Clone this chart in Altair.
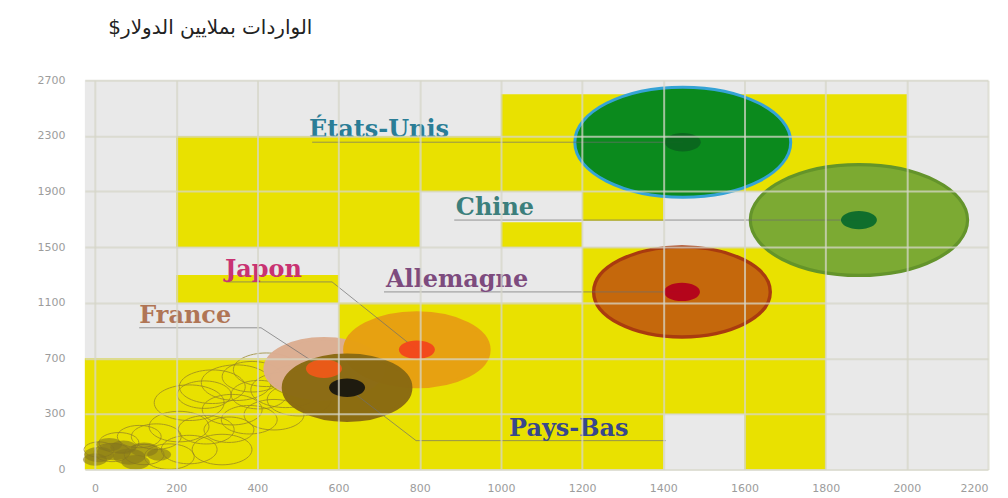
import altair as alt
import pandas as pd

# ---------------- data ----------------
title_text = "الواردات بملايين الدولار$\u200F"

countries = ["États-Unis", "Chine", "Allemagne", "France", "Japon", "Pays-Bas"]
exports_bn = [1448, 1882, 1446, 564, 793, 621]
imports_bn = [2255, 1695, 1178, 625, 762, 489]
trade_bn = [4050, 4100, 2710, 1200, 1794, 1395]

# label anchors (data units): left end of the underline
label_x = [527, 889, 717, 109, 320, 1020]
label_y = [2255, 1695, 1178, 920, 1250, 156]

# leader lines (polyline points, data units)
lead_country = ["États-Unis", "États-Unis", "Chine", "Chine", "Allemagne", "Allemagne",
                "France", "France", "France", "Japon", "Japon", "Japon",
                "Pays-Bas", "Pays-Bas", "Pays-Bas"]
lead_seq = [0, 1, 0, 1, 0, 1, 0, 1, 2, 0, 1, 2, 0, 1, 2]
lead_x = [535, 1448, 885, 1882, 712, 1446, 109, 409, 564, 323, 584, 793, 1406, 791, 621]
lead_y = [2255, 2255, 1695, 1695, 1178, 1178, 920, 920, 625, 1250, 1250, 762, 156, 156, 489]

# smaller countries (outline bubbles)
small_x = [232, 289, 348, 387, 422, 470, 338, 274, 207, 151, 109, 59, 232, 313, 183,
           42, 10, 503, 441, 380, 269, 404, 121, 330, 503]
small_y = [381, 496, 525, 568, 618, 474, 331, 215, 232, 178, 178, 145, 108, 108, 70,
           92, 108, 403, 296, 269, 439, 439, 81, 215, 546]
small_trade = [424, 377, 424, 311, 377, 424, 311, 271, 311, 216, 167, 138, 271, 311, 216,
               112, 78, 354, 311, 271, 252, 271, 138, 216, 311]

# smallest countries (filled cluster near origin)
cluster_x = [10, 47, 84, 121, 35, 158, 0, 70, 100]
cluster_y = [81, 97, 70, 108, 135, 81, 54, 120, 40]
cluster_trade = [78, 100, 89, 68, 58, 50, 50, 60, 70]

# yellow background cells (data units)
cell_x0 = [-25, 1600, -25, 600, 200, 1200, 200, 1000, 1200, 800, 1000]
cell_x1 = [1400, 1800, 1800, 1800, 600, 1800, 800, 1200, 1400, 2000, 2000]
cell_y0 = [0, 0, 300, 700, 1100, 1100, 1500, 1500, 1690, 1900, 2300]
cell_y1 = [300, 300, 700, 1100, 1300, 1500, 2300, 1680, 1900, 2300, 2600]

x_ticks = [0, 200, 400, 600, 800, 1000, 1200, 1400, 1600, 1800, 2000, 2200]
y_ticks = [0, 300, 700, 1100, 1500, 1900, 2300, 2700]

# ---------------- styles ----------------
fill_colors = ["#0b8a1d", "#7caa32", "#c5670d", "#dcae92", "#e7a012", "#8a6a12"]
stroke_colors = ["#35a3d6", "#63942a", "#a93a10", "#dcae92", "#e7a012", "#8a6a12"]
stroke_widths = [3, 4, 8, 0, 0, 0]
opacities = [1, 0.97, 1, 0.55, 0.92, 0.7]
dot_colors = ["#0b661f", "#0b6a2c", "#b3001c", "#ee5a18", "#f2461c", "#18170f"]
label_colors = ["#2a7d96", "#3c7f7c", "#7d4b7e", "#b07555", "#c83272", "#38478c"]

ELLIPSE = ("M-1,0C-1,-0.2817,-0.5523,-0.51,0,-0.51C0.5523,-0.51,1,-0.2817,1,0"
           "C1,0.2817,0.5523,0.51,0,0.51C-0.5523,0.51,-1,0.2817,-1,0Z")

# ---------------- tables ----------------
big = pd.DataFrame({"country": countries, "x": exports_bn, "y": imports_bn, "trade": trade_bn})
labels = pd.DataFrame({"country": countries, "x": label_x, "y": label_y})
leaders = pd.DataFrame({"country": lead_country, "seq": lead_seq, "x": lead_x, "y": lead_y})
small = pd.DataFrame({"x": small_x, "y": small_y, "trade": small_trade})
cluster = pd.DataFrame({"x": cluster_x, "y": cluster_y, "trade": cluster_trade})
cells = pd.DataFrame({"x": cell_x0, "x2": cell_x1, "y": cell_y0, "y2": cell_y1})

W, H = 905, 390
x_scale = alt.Scale(domain=[-25, 2200], nice=False, zero=False)
y_scale = alt.Scale(domain=[0, 300, 2700], range=[H, H - 55.7, 0], nice=False, zero=False)
size_scale = alt.Scale(domain=[0, 4000], range=[0, 46240], zero=True)

axis_common = dict(ticks=False, domain=False, grid=True, gridColor="#d6d6c8",
                   gridOpacity=0.75, gridWidth=2, labelColor="#9c9c9c",
                   labelFontSize=11, labelFont="DejaVu Sans", labelFlush=False,
                   labelOverlap=False, zindex=1, title=None, format="d")
x_axis = alt.Axis(values=x_ticks, labelPadding=13,
                  labelAlign={"condition": {"test": "datum.value >= 2200", "value": "right"},
                              "value": "center"},
                  **axis_common)
y_axis = alt.Axis(values=y_ticks, labelPadding=20, **axis_common)

X = alt.X("x:Q", scale=x_scale, axis=x_axis)
Y = alt.Y("y:Q", scale=y_scale, axis=y_axis)

rects = alt.Chart(cells).mark_rect(color="#e9e100").encode(x=X, x2="x2", y=Y, y2="y2")

small_layer = alt.Chart(small).mark_point(shape=ELLIPSE, filled=False, strokeWidth=1,
                                          color="#958327", opacity=0.75).encode(
    x=X, y=Y, size=alt.Size("trade:Q", scale=size_scale, legend=None))

cluster_layer = alt.Chart(cluster).mark_point(shape=ELLIPSE, filled=True,
                                              color="#85761c", opacity=0.6).encode(
    x=X, y=Y, size=alt.Size("trade:Q", scale=size_scale, legend=None))

big_layer = alt.Chart(big).mark_point(shape=ELLIPSE, filled=True).encode(
    x=X, y=Y,
    size=alt.Size("trade:Q", scale=size_scale, legend=None),
    fill=alt.Fill("country:N", scale=alt.Scale(domain=countries, range=fill_colors), legend=None),
    stroke=alt.Stroke("country:N", scale=alt.Scale(domain=countries, range=stroke_colors), legend=None),
    strokeWidth=alt.StrokeWidth("country:N", scale=alt.Scale(domain=countries, range=stroke_widths), legend=None),
    opacity=alt.Opacity("country:N", scale=alt.Scale(domain=countries, range=opacities), legend=None),
)

lead_layer = alt.Chart(leaders).mark_line(color="#6f6f6f", strokeWidth=1, opacity=0.7).encode(
    x=X, y=Y, detail="country:N", order="seq:Q")

dot_layer = alt.Chart(big).mark_point(shape=ELLIPSE, filled=True, size=1300, opacity=0.95).encode(
    x=X, y=Y,
    fill=alt.Fill("country:N", scale=alt.Scale(domain=countries, range=dot_colors), legend=None))

label_layer = alt.Chart(labels).mark_text(align="left", baseline="alphabetic", dy=-5,
                                          font="DejaVu Serif", fontWeight="bold",
                                          fontSize=24).encode(
    x=X, y=Y, text="country:N",
    color=alt.Color("country:N", scale=alt.Scale(domain=countries, range=label_colors), legend=None))

chart = alt.layer(
    rects, small_layer, cluster_layer, big_layer, lead_layer, dot_layer, label_layer
).resolve_scale(
    fill="independent", color="independent", stroke="independent",
    opacity="independent", strokeWidth="independent"
).properties(
    width=W, height=H,
    autosize=alt.AutoSizeParams(type="none"),
    padding={"left": 77, "top": 72, "right": 12, "bottom": 26},
    title=alt.TitleParams(text=title_text, anchor="start", frame="group", align="right",
                          dx=228, offset=36, fontSize=20, font="DejaVu Sans",
                          fontWeight="normal", color="#222222"),
).configure_view(fill="#e9e9e9", strokeWidth=0)

chart.save("out.html", embed_options={"renderer": "svg", "actions": False})
